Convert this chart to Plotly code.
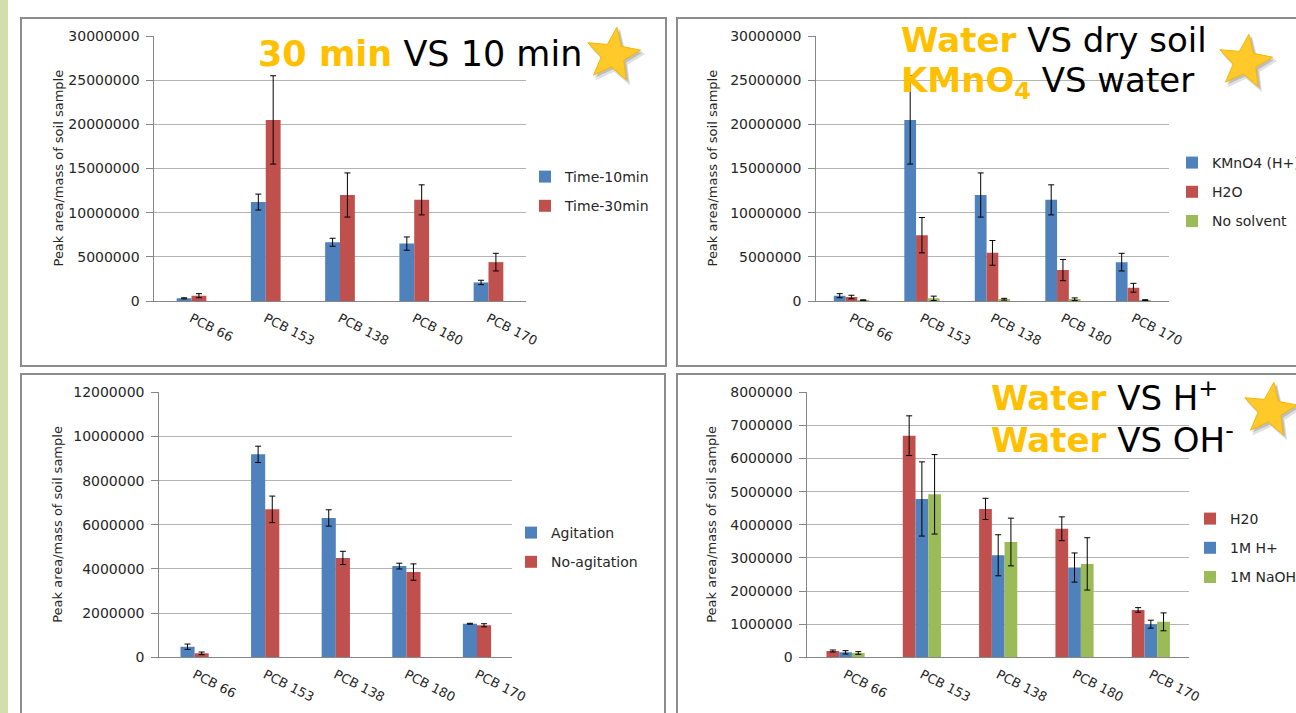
import math
import plotly.graph_objects as go

W, H = 1296, 713

# ---- data -------------------------------------------------------------
categories = ["PCB 66", "PCB 153", "PCB 138", "PCB 180", "PCB 170"]

# extraction time
time_10min = [300000, 11200000, 6650000, 6500000, 2100000]
time_10min_err = [60000, 900000, 450000, 750000, 250000]
time_30min = [600000, 20500000, 12000000, 11450000, 4400000]
time_30min_err = [230000, 5000000, 2500000, 1700000, 1000000]

# solvent
kmno4 = [600000, 20500000, 12000000, 11450000, 4400000]
kmno4_err = [230000, 5000000, 2500000, 1700000, 1000000]
h2o = [450000, 7450000, 5450000, 3500000, 1500000]
h2o_err = [200000, 2000000, 1400000, 1200000, 500000]
no_solvent = [100000, 300000, 200000, 200000, 100000]
no_solvent_err = [30000, 250000, 100000, 150000, 50000]

# agitation
agitation = [480000, 9190000, 6310000, 4130000, 1520000]
agitation_err = [120000, 370000, 370000, 130000, 20000]
no_agitation = [180000, 6700000, 4500000, 3860000, 1450000]
no_agitation_err = [60000, 600000, 300000, 370000, 70000]

# pH
h20 = [190000, 6690000, 4480000, 3880000, 1430000]
h20_err = [30000, 600000, 320000, 360000, 70000]
h_plus = [150000, 4780000, 3080000, 2710000, 1000000]
h_plus_err = [50000, 1120000, 620000, 440000, 120000]
naoh = [130000, 4920000, 3480000, 2820000, 1070000]
naoh_err = [40000, 1200000, 720000, 790000, 270000]

BLUE, RED, GREEN = "#4F81BD", "#C0504D", "#9BBB59"
GOLD = "#FFC000"
FONT = "DejaVu Sans"
TXT = "#262626"


def px(x):
    return x / W


def py(y):
    return 1 - y / H


panels = [
    dict(x=(154.4, 525.6), y=(36, 301), ymax=30e6, dtick=5e6, group=0.4,
         series=[("Time-10min", time_10min, time_10min_err, BLUE),
                 ("Time-30min", time_30min, time_30min_err, RED)],
         legend=(525, 161), ytitle_x=58),
    dict(x=(816.2, 1168.7), y=(36, 301), ymax=30e6, dtick=5e6, group=0.5,
         series=[("KMnO4 (H+)", kmno4, kmno4_err, BLUE),
                 ("H2O", h2o, h2o_err, RED),
                 ("No solvent", no_solvent, no_solvent_err, GREEN)],
         legend=(1172, 147), ytitle_x=712),
    dict(x=(159.3, 512.3), y=(392.3, 657.3), ymax=12e6, dtick=2e6, group=0.4,
         series=[("Agitation", agitation, agitation_err, BLUE),
                 ("No-agitation", no_agitation, no_agitation_err, RED)],
         legend=(511, 517), ytitle_x=58),
    dict(x=(807.4, 1189.0), y=(392.3, 657.3), ymax=8e6, dtick=1e6, group=0.5,
         series=[("H20", h20, h20_err, RED),
                 ("1M H+", h_plus, h_plus_err, BLUE),
                 ("1M NaOH", naoh, naoh_err, GREEN)],
         legend=(1190, 503), ytitle_x=712),
]

fig = go.Figure()
layout = {}
annotations = []

for i, p in enumerate(panels, start=1):
    sfx = "" if i == 1 else str(i)
    xa, ya = "x" + sfx, "y" + sfx
    leg = "legend" + sfx
    n = len(p["series"])
    w = p["group"] / n
    for k, (name, vals, errs, col) in enumerate(p["series"]):
        fig.add_trace(go.Bar(
            x=categories, y=vals, name=name,
            xaxis=xa, yaxis=ya, legend=leg, legendgroup=f"{i}-{k}",
            marker=dict(color=col, line=dict(width=0)),
            width=w, offset=-p["group"] / 2 + k * w,
            error_y=dict(type="data", array=errs, color="#000000",
                         thickness=1, width=3),
            showlegend=True,
        ))
    layout["xaxis" + sfx] = dict(
        domain=[px(p["x"][0]), px(p["x"][1])], anchor=ya,
        type="category", range=[-0.5, 4.5], automargin=False,
        showline=True, linecolor="#868686", linewidth=1,
        showgrid=False, ticks="", tickangle=27,
        tickfont=dict(family=FONT, size=13, color=TXT),
        ticklabelstandoff=4, fixedrange=True,
    )
    layout["yaxis" + sfx] = dict(
        domain=[py(p["y"][1]), py(p["y"][0])], anchor=xa,
        range=[0, p["ymax"]], dtick=p["dtick"], tick0=0, tickformat="d",
        automargin=False,
        showgrid=True, gridcolor="#B4B4B4", gridwidth=1,
        showline=True, linecolor="#868686", linewidth=1,
        ticks="outside", ticklen=7, tickcolor="#868686",
        tickfont=dict(family=FONT, size=14, color=TXT),
        ticklabelstandoff=4, zeroline=False, fixedrange=True,
    )
    layout[leg] = dict(
        x=px(p["legend"][0]), y=py(p["legend"][1]),
        xanchor="left", yanchor="top",
        bgcolor="rgba(0,0,0,0)", borderwidth=0,
        font=dict(family=FONT, size=14, color=TXT),
        traceorder="grouped", tracegroupgap=8, itemwidth=30,
    )
    annotations.append(dict(
        text="Peak area/mass of soil sample", textangle=-90,
        x=px(p["ytitle_x"]), y=py((p["y"][0] + p["y"][1]) / 2),
        xref="paper", yref="paper", showarrow=False,
        xanchor="center", yanchor="middle",
        font=dict(family=FONT, size=13, color=TXT),
    ))


def gold(s):
    return f'<b><span style="color:{GOLD}">{s}</span></b>'


titles = [
    (gold("30 min") + " VS 10 min", 256, 54, 35),
    (gold("Water") + " VS dry soil", 899, 40, 34),
    (gold("KMnO<sub>4</sub>") + " VS water", 899, 83, 34),
    (gold("Water") + " VS H<sup>+</sup>", 989, 396, 34),
    (gold("Water") + " VS OH<sup>-</sup>", 989, 438, 34),
]
for text, tx, ty, fs in titles:
    annotations.append(dict(
        text=text, x=px(tx), y=py(ty), xref="paper", yref="paper",
        xanchor="left", yanchor="middle", showarrow=False,
        font=dict(family=FONT, size=fs, color="#000000"),
    ))


def star_path(cx, cy, R, r, rot):
    pts = []
    for j in range(10):
        ang = math.radians(-90 + rot + j * 36)
        rad = R if j % 2 == 0 else r
        pts.append((px(cx + rad * math.cos(ang)), py(cy + rad * math.sin(ang))))
    return "M " + " L ".join(f"{a:.5f},{b:.5f}" for a, b in pts) + " Z"


shapes = [
    # green strip at the left edge
    dict(type="rect", xref="paper", yref="paper", x0=0, x1=px(8), y0=0, y1=1,
         fillcolor="#D3DEAE", line=dict(width=0), layer="below"),
]
# panel frames
for x0, x1, y0, y1 in [(21, 666, 18, 366), (677, 1310, 18, 366),
                       (21, 665, 374, 730), (677, 1310, 374, 730)]:
    shapes.append(dict(type="rect", xref="paper", yref="paper",
                       x0=px(x0), x1=px(x1), y0=py(y1), y1=py(y0),
                       line=dict(color="#8C8C8C", width=2),
                       fillcolor="rgba(0,0,0,0)", layer="below"))
# stars with a soft drop shadow
for cx, cy in [(613, 55), (1245, 62), (1270, 410)]:
    shapes.append(dict(type="path", xref="paper", yref="paper",
                       path=star_path(cx + 3, cy + 4, 30, 13, 8),
                       fillcolor="rgba(0,0,0,0.12)", line=dict(width=0)))
    shapes.append(dict(type="path", xref="paper", yref="paper",
                       path=star_path(cx + 2, cy + 2, 29, 12.5, 8),
                       fillcolor="rgba(0,0,0,0.15)", line=dict(width=0)))
    shapes.append(dict(type="path", xref="paper", yref="paper",
                       path=star_path(cx, cy, 28, 12, 8),
                       fillcolor="#FFC929", line=dict(color="#F2B705", width=1)))

fig.update_layout(
    width=W, height=H, autosize=False,
    margin=dict(l=0, r=0, t=0, b=0, pad=0, autoexpand=False),
    paper_bgcolor="#FFFFFF", plot_bgcolor="rgba(0,0,0,0)",
    barmode="overlay", showlegend=True,
    annotations=annotations, shapes=shapes,
    **layout,
)

fig.write_html("out.html")
